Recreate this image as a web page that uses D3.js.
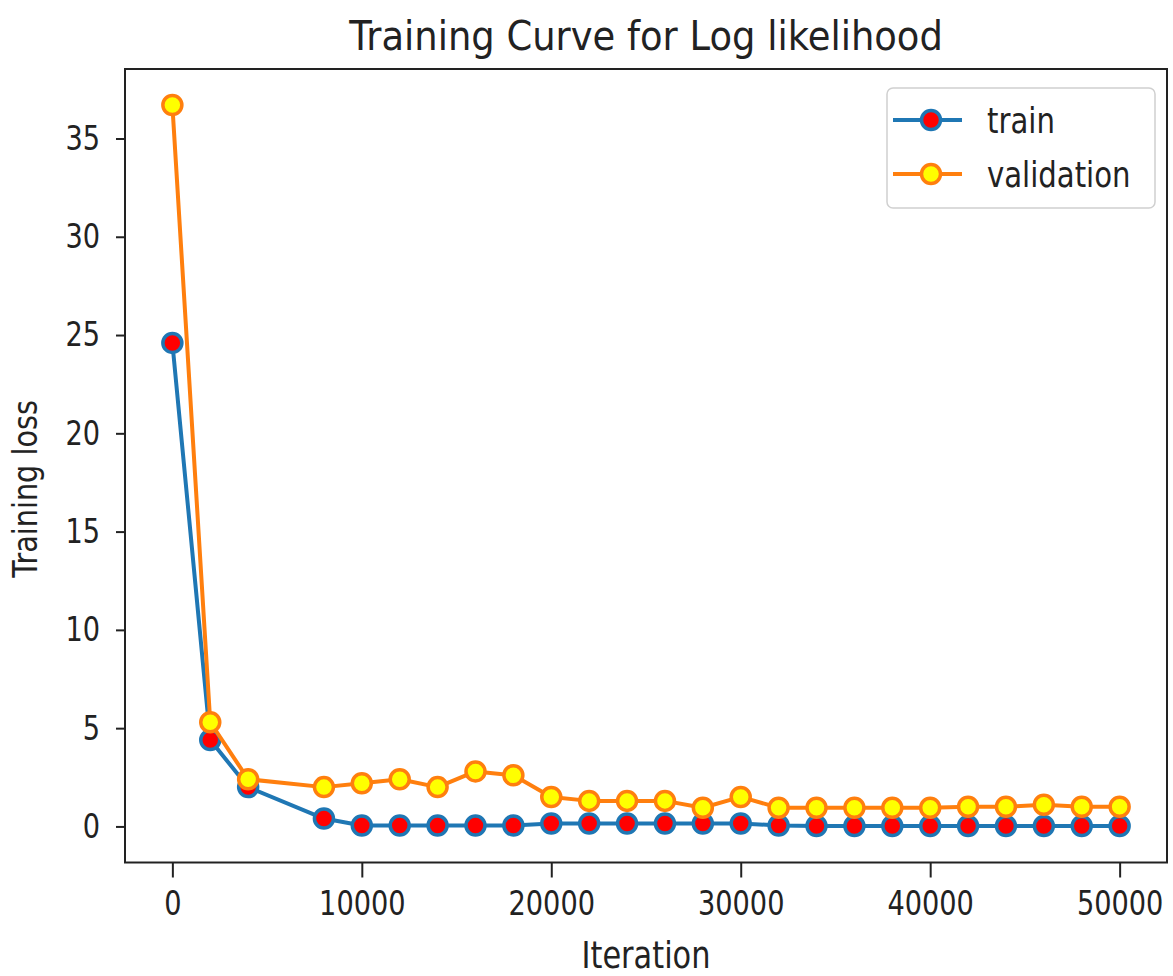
<!DOCTYPE html>
<html>
<head>
<meta charset="utf-8">
<script src="https://cdn.jsdelivr.net/npm/d3@7"></script>
<style>
  body { margin: 0; background: #fff; }
  text { font-family: "DejaVu Sans", sans-serif; fill: #222; }
</style>
</head>
<body>
<svg id="canvas" width="1173" height="976"></svg>
<script>
// values
iterations = [0, 2000, 4000, 8000, 10000, 12000, 14000, 16000, 18000, 20000, 22000, 24000, 26000,
    28000, 30000, 32000, 34000, 36000, 38000, 40000, 42000, 44000, 46000, 48000, 50000];
train_loss = [24.6, 4.4, 2.0, 0.4, 0.05, 0.05, 0.05, 0.05, 0.05, 0.15, 0.15, 0.15, 0.15,
    0.15, 0.15, 0.05, 0.02, 0.02, 0.02, 0.02, 0.02, 0.02, 0.02, 0.02, 0.02];
val_loss = [36.7, 5.3, 2.4, 2.0, 2.2, 2.4, 2.0, 2.8, 2.6, 1.5, 1.3, 1.3, 1.3,
    0.95, 1.5, 0.95, 0.95, 0.95, 0.95, 0.95, 1.0, 1.0, 1.1, 1.0, 1.0];
x_ticks = [0, 10000, 20000, 30000, 40000, 50000];
y_ticks = [0, 5, 10, 15, 20, 25, 30, 35];
series_names = ["train", "validation"];

BLUE = "#1f77b4";
ORANGE = "#ff7f0e";
TICK_SX = 0.8;
MARKER_R = 9.5;
LINE_W = 4;

// plot box (window.top is taken, so prefixed names)
plot_l = 125; plot_r = 1167; plot_t = 69; plot_b = 862.5;

svg = d3.select("#canvas");

// matplotlib style 5% margins
var xpad = (d3.max(iterations) - d3.min(iterations)) * 0.05;
var ypad = (d3.max(val_loss) - 0) * 0.05;
x = d3.scaleLinear().domain([d3.min(iterations) - xpad, d3.max(iterations) + xpad]).range([plot_l, plot_r]);
y = d3.scaleLinear().domain([0 - ypad, d3.max(val_loss) + ypad]).range([plot_b, plot_t]);

// axes
var gx = svg.append("g")
    .attr("transform", "translate(0," + plot_b + ")")
    .call(d3.axisBottom(x).tickValues(x_ticks).tickSize(15).tickPadding(13).tickFormat(d3.format("d")));
var gy = svg.append("g")
    .attr("transform", "translate(" + plot_l + ",0)")
    .call(d3.axisLeft(y).tickValues(y_ticks).tickSize(9).tickFormat(d3.format("d")));

[gx, gy].forEach(function(g){
    g.select(".domain").remove();
    g.selectAll(".tick line").attr("stroke", "#222").attr("stroke-width", 2);
    g.selectAll(".tick text")
        .attr("font-family", "DejaVu Sans")
        .attr("font-size", 34)
        .attr("fill", "#222")
        .attr("transform", "scale(" + TICK_SX + ",1)");
});
gy.selectAll(".tick text").attr("x", -25 / TICK_SX);

// frame
svg.append("rect")
    .attr("x", plot_l).attr("y", plot_t)
    .attr("width", plot_r - plot_l).attr("height", plot_b - plot_t)
    .attr("fill", "none").attr("stroke", "#222").attr("stroke-width", 2);

// lines + markers
var series = [
    {name: series_names[0], values: train_loss, line: BLUE, face: "#ff0000"},
    {name: series_names[1], values: val_loss, line: ORANGE, face: "#ffff00"}
];

var line = d3.line()
    .x(function(d){ return x(d[0]) })
    .y(function(d){ return y(d[1]) });

series.forEach(function(s){
    var pts = iterations.map(function(it, i){ return [it, s.values[i]] });
    svg.append("path")
        .datum(pts)
        .attr("d", line)
        .attr("fill", "none")
        .attr("stroke", s.line)
        .attr("stroke-width", LINE_W)
        .attr("stroke-linejoin", "round");
    svg.append("g").selectAll("circle")
        .data(pts)
        .enter()
        .append("circle")
        .attr("cx", function(d){ return x(d[0]) })
        .attr("cy", function(d){ return y(d[1]) })
        .attr("r", MARKER_R)
        .attr("fill", s.face)
        .attr("stroke", s.line)
        .attr("stroke-width", 3.5);
});

// text helper, glyphs are narrow in the picture
function label(x0, y0, str, size, sx, anchor, rot){
    var t = "translate(" + x0 + "," + y0 + ")" + (rot ? " rotate(" + rot + ")" : "") + " scale(" + sx + ",1)";
    return svg.append("text")
        .attr("transform", t)
        .attr("text-anchor", anchor)
        .attr("font-size", size)
        .text(str);
}

label((plot_l + plot_r) / 2, 50, "Training Curve for Log likelihood", 41, 0.9, "middle");
label((plot_l + plot_r) / 2, 968, "Iteration", 38, 0.8, "middle");
label(37, 489, "Training loss", 33, 0.87, "middle", -90);

// legend
var lg = svg.append("g");
lg.append("rect")
    .attr("x", 887).attr("y", 88)
    .attr("width", 268).attr("height", 120)
    .attr("rx", 6)
    .attr("fill", "#fff").attr("fill-opacity", 0.8)
    .attr("stroke", "#d0d0d0").attr("stroke-width", 1.5);
series.forEach(function(s, i){
    var ly = 120 + i * 54;
    lg.append("line")
        .attr("x1", 893).attr("x2", 962)
        .attr("y1", ly).attr("y2", ly)
        .attr("stroke", s.line).attr("stroke-width", LINE_W);
    lg.append("circle")
        .attr("cx", 931).attr("cy", ly).attr("r", MARKER_R)
        .attr("fill", s.face).attr("stroke", s.line).attr("stroke-width", 3.5);
    label(987, ly + 13, s.name, 36, 0.81, "start");
});
</script>
</body>
</html>
